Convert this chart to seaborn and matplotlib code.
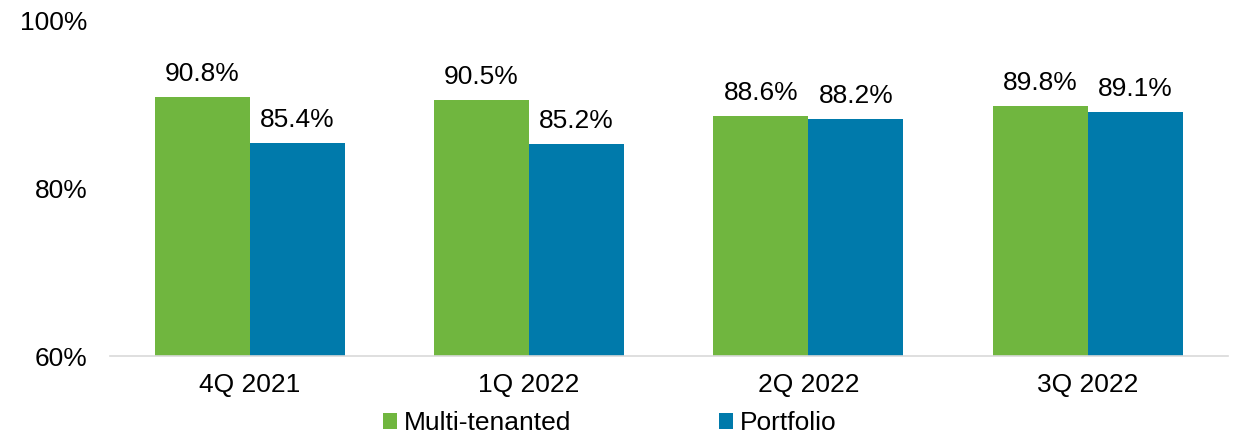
import pandas as pd
import matplotlib
matplotlib.use("Agg")
import matplotlib.pyplot as plt
import seaborn as sns

# datos del gráfico
trimestres = ["4Q 2021", "1Q 2022", "2Q 2022", "3Q 2022"]
multi_tenanted = [90.8, 90.5, 88.6, 89.8]
portfolio = [85.4, 85.2, 88.2, 89.1]
series = ["Multi-tenanted", "Portfolio"]
colores = ["#70B63F", "#007AAB"]

df = pd.DataFrame({
    "trimestre": trimestres * 2,
    "serie": [series[0]] * 4 + [series[1]] * 4,
    "valor": multi_tenanted + portfolio,
})

sns.set_style("white")
plt.rcParams["font.family"] = ["Liberation Sans", "DejaVu Sans"]
plt.rcParams["text.color"] = "black"
plt.rcParams["xtick.color"] = "black"
plt.rcParams["ytick.color"] = "black"
fs = 19

fig = plt.figure(figsize=(12.35, 4.37), dpi=100)
ax = fig.add_axes([0.089, 0.185, 0.905, 0.769])

sns.barplot(data=df, x="trimestre", y="valor", hue="serie", order=trimestres,
            hue_order=series, palette=colores, width=0.68, saturation=1,
            edgecolor="none", ax=ax)

for cont in ax.containers:
    ax.bar_label(cont, labels=[f"{v:.1f}%" for v in cont.datavalues],
                 padding=8, fontsize=fs, color="black")

ax.set_ylim(60, 100)
ax.set_xlim(-0.5, 3.5)
ax.set_yticks([60, 80, 100])
ax.set_yticklabels(["60%", "80%", "100%"])
ax.tick_params(axis="both", labelsize=fs, length=0, labelcolor="black")
ax.tick_params(axis="y", pad=16)
ax.tick_params(axis="x", pad=12)
ax.set_xlabel("")
ax.set_ylabel("")

for lado in ["top", "right", "left"]:
    ax.spines[lado].set_visible(False)
ax.spines["bottom"].set_color("#D9D9D9")
ax.spines["bottom"].set_linewidth(1.2)

ax.legend(loc="upper center", bbox_to_anchor=(0.447, -0.125), ncol=2, frameon=False,
          fontsize=fs, handlelength=0.55, handleheight=0.55, handletextpad=0.25,
          columnspacing=5.6, borderpad=0, labelcolor="black")

fig.savefig("out.png", dpi=100)
